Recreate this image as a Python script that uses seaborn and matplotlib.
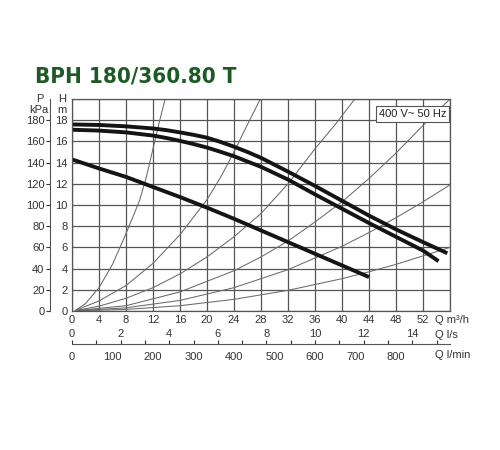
import matplotlib
matplotlib.use('Agg')
import matplotlib.pyplot as plt
from matplotlib import font_manager
import seaborn as sns

# pump curves, Q in m3/h, H in m
q_top = [0, 4, 8, 12, 14, 16, 18, 20, 22, 24, 26, 28, 32, 36, 40, 44, 48, 52, 55.6]
h_top = [17.6, 17.55, 17.42, 17.22, 17.06, 16.85, 16.62, 16.35, 15.95, 15.5, 15.0, 14.45, 13.15, 11.8, 10.4, 9.0, 7.7, 6.5, 5.45]
q_mid = [0, 4, 8, 12, 14, 16, 18, 20, 22, 24, 26, 28, 32, 36, 40, 44, 48, 52, 54.3]
h_mid = [17.1, 17.02, 16.85, 16.55, 16.32, 16.05, 15.75, 15.42, 15.02, 14.6, 14.1, 13.6, 12.4, 11.0, 9.65, 8.3, 7.0, 5.7, 4.7]
q_low = [0, 4, 8, 12, 16, 20, 24, 28, 32, 36, 40, 44]
h_low = [14.3, 13.45, 12.65, 11.7, 10.75, 9.75, 8.7, 7.6, 6.5, 5.4, 4.3, 3.2]

# thin system curves
q_sys_a = [0.5, 2, 4, 6, 8, 10, 11, 12, 13, 13.8]
h_sys_a = [0.05, 0.7, 2.2, 4.4, 7.3, 10.4, 12.6, 15.3, 18.0, 20.0]
q_sys_b = [0.5, 4, 8, 12, 16, 20, 22, 24, 26, 27.9]
h_sys_b = [0.05, 0.95, 2.4, 4.5, 7.2, 10.5, 12.6, 15.0, 17.6, 20.0]
q_sys_c = [0.5, 4, 8, 12, 16, 20, 24, 28, 32, 36, 39, 41.9]
h_sys_c = [0.05, 0.45, 1.2, 2.2, 3.5, 5.1, 7.0, 9.2, 12.0, 15.3, 17.6, 20.0]
q_sys_d = [0.5, 8, 16, 24, 28, 32, 36, 40, 44, 48, 52, 56]
h_sys_d = [0.03, 0.5, 1.8, 3.8, 5.1, 6.6, 8.4, 10.3, 12.5, 14.9, 17.5, 20.0]
q_sys_e = [0.5, 8, 16, 24, 32, 40, 44, 48, 52, 56]
h_sys_e = [0.02, 0.3, 1.0, 2.2, 3.9, 6.1, 7.4, 8.8, 10.3, 11.9]
q_sys_f = [0.5, 8, 16, 24, 32, 40, 44, 48, 52, 56]
h_sys_f = [0.01, 0.15, 0.5, 1.1, 1.95, 3.05, 3.7, 4.4, 5.2, 6.0]

q_ticks = list(range(0, 57, 4))
h_ticks = list(range(0, 21, 2))
p_ticks = list(range(0, 181, 20))
ls_ticks = list(range(0, 16))
lmin_ticks = list(range(0, 901, 100))

sns.set_style('white')
plt.rcParams['font.family'] = ['Liberation Sans', 'DejaVu Sans']
grid_col = '#555555'
txt_col = '#333333'

# narrowest bold family available for the title
names = {f.name for f in font_manager.fontManager.ttflist}
title_font = dict(family=['DejaVu Sans'], fontstretch='condensed', fontsize=16)
if 'Liberation Sans Narrow' in names:
    title_font = dict(family=['Liberation Sans Narrow', 'DejaVu Sans'], fontsize=18)

fig = plt.figure(figsize=(5, 4.5), dpi=100)
L, W = 72 / 500, 378 / 500
ax = fig.add_axes([L, 1 - 311 / 450, W, 212 / 450])

for qs, hs in [(q_sys_a, h_sys_a), (q_sys_b, h_sys_b), (q_sys_c, h_sys_c),
               (q_sys_d, h_sys_d), (q_sys_e, h_sys_e), (q_sys_f, h_sys_f)]:
    sns.lineplot(x=qs, y=hs, ax=ax, color='#6a6a6a', lw=0.75)
for qs, hs in [(q_top, h_top), (q_mid, h_mid), (q_low, h_low)]:
    sns.lineplot(x=qs, y=hs, ax=ax, color='#141414', lw=2.8, solid_capstyle='butt')

ax.set_xlim(0, 56)
ax.set_ylim(0, 20)
ax.set_xticks(q_ticks)
ax.set_xticklabels([str(q) if q < 56 else '' for q in q_ticks])
ax.set_yticks(h_ticks)
ax.set_yticklabels([str(h) if h < 20 else '' for h in h_ticks])
ax.grid(True, color=grid_col, lw=0.9)
ax.tick_params(length=0, labelsize=8, pad=3, colors=txt_col)
for s in ax.spines.values():
    s.set_color(grid_col)
    s.set_linewidth(0.9)
ax.set_xlabel('')
ax.set_ylabel('')

# pressure scale on the left
sec = ax.secondary_yaxis(-22 / 378, functions=(lambda h: h * 10, lambda p: p / 10))
sec.set_yticks(p_ticks)
sec.tick_params(labelsize=8, length=3, width=0.8, pad=1, colors=txt_col)
sec.spines['left'].set_color(grid_col)

ax.text(50.5, 18.6, '400 V~ 50 Hz', ha='center', va='center', fontsize=8,
        color='#222222', bbox=dict(boxstyle='square,pad=0.25', fc='white', ec=grid_col, lw=0.8))

# flow scales l/s and l/min
ax2 = fig.add_axes([L, 1 - 344 / 450, W, 1e-6])
ax2.set_xlim(0, 56)
ax2.set_yticks([])
for k in ['top', 'left', 'right']:
    ax2.spines[k].set_visible(False)
ax2.spines['bottom'].set_color(grid_col)
ax2.set_xticks([m * 0.06 for m in lmin_ticks])
ax2.set_xticklabels([str(m) if m < 900 else '' for m in lmin_ticks])
ax2.tick_params(axis='x', direction='out', length=4, width=0.8, labelsize=8, pad=2,
                colors=txt_col)
sec2 = ax2.secondary_xaxis('top', functions=(lambda q: q / 3.6, lambda s: s * 3.6))
sec2.set_xticks(ls_ticks)
sec2.set_xticklabels([str(s) if s % 2 == 0 and s < 15 else '' for s in ls_ticks])
sec2.tick_params(direction='out', length=3, width=0.8, labelsize=8, pad=0.5, colors=txt_col)
sec2.spines['top'].set_visible(False)

fig.text(435 / 500, 1 - 320 / 450, 'Q m³/h', fontsize=8, va='center', color=txt_col)
fig.text(435 / 500, 1 - 335 / 450, 'Q l/s', fontsize=8, va='center', color=txt_col)
fig.text(435 / 500, 1 - 355 / 450, 'Q l/min', fontsize=8, va='center', color=txt_col)
fig.text(40 / 500, 1 - 99 / 450, 'P', fontsize=8, ha='center', va='center', color=txt_col)
fig.text(39 / 500, 1 - 110 / 450, 'kPa', fontsize=8, ha='center', va='center', color=txt_col)
fig.text(62 / 500, 1 - 99 / 450, 'H', fontsize=8, ha='center', va='center', color=txt_col)
fig.text(62 / 500, 1 - 110 / 450, 'm', fontsize=8, ha='center', va='center', color=txt_col)

fig.text(35 / 500, 1 - 77 / 450, 'BPH 180/360.80 T', fontweight='bold',
         color='#1d5a25', va='center', **title_font)

fig.savefig('out.png', dpi=100, facecolor='white')
